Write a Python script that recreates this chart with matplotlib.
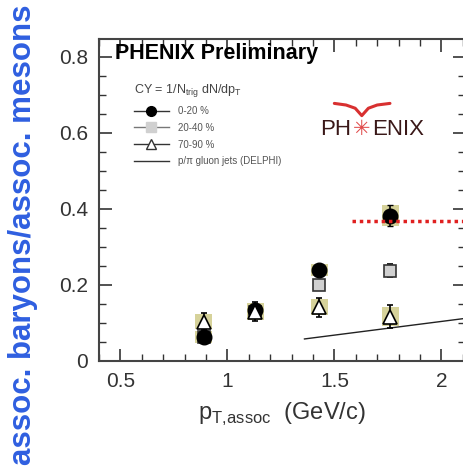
import matplotlib
matplotlib.use("Agg")
import matplotlib.pyplot as plt
from matplotlib.lines import Line2D
from matplotlib.patches import Rectangle
from matplotlib.ticker import MultipleLocator

# ---- data ----
x_pts = [0.89, 1.13, 1.43, 1.76]
y_central = [0.063, 0.133, 0.240, 0.382]      # 0-20 %
y_mid = [0.063, 0.130, 0.200, 0.238]          # 20-40 %
y_periph = [0.103, 0.130, 0.142, 0.116]       # 70-90 %
err_central = [0.010, 0.015, 0.012, 0.028]
err_mid = [0.008, 0.012, 0.012, 0.018]
err_periph = [0.022, 0.025, 0.025, 0.030]
syst_central = [0.015, 0.020, 0.016, 0.028]
syst_periph = [0.020, 0.022, 0.022, 0.025]
delphi_x = [1.36, 2.11]
delphi_y = [0.058, 0.112]
ref_x = [1.58, 2.11]
ref_y = [0.368, 0.368]
legend_labels = ["0-20 %", "20-40 %", "70-90 %", "p/\u03c0 gluon jets (DELPHI)"]

plt.rcParams['font.family'] = ['Liberation Sans', 'DejaVu Sans']

fig = plt.figure(figsize=(4.63, 4.74), dpi=100)
fig.patch.set_facecolor('white')
ax = fig.add_axes([99/463, (474-361)/474, (465-99)/463, (361-39)/474])
ax.set_xlim(0.4, 2.11)
ax.set_ylim(0, 0.847)

khaki = '#d6d29a'
bw = 0.04
for xs, ys, ss in [(x_pts, y_central, syst_central), (x_pts, y_periph, syst_periph)]:
    for xv, yv, sv in zip(xs, ys, ss):
        ax.add_patch(Rectangle((xv - bw, yv - sv), 2*bw, 2*sv, facecolor=khaki,
                               edgecolor='none', zorder=1))

ax.errorbar(x_pts, y_mid, yerr=err_mid, fmt='s', ms=9, mfc='#d0d0d0', mec='#333333',
            mew=1.2, ecolor='black', elinewidth=1.2, capsize=2, zorder=3)
ax.errorbar(x_pts, y_central, yerr=err_central, fmt='o', ms=10.5, mfc='black', mec='black',
            ecolor='black', elinewidth=1.2, capsize=2, zorder=4)
ax.errorbar(x_pts, y_periph, yerr=err_periph, fmt='^', ms=10, mfc='white', mec='black',
            mew=1.2, ecolor='black', elinewidth=1.2, capsize=2, zorder=5)

ax.plot(delphi_x, delphi_y, color='#222222', lw=1.0, zorder=2)
ax.plot(ref_x, ref_y, color='#e02020', lw=2.5, ls=(0, (1, 1.1)), zorder=6)

# ticks
ax.xaxis.set_major_locator(MultipleLocator(0.5))
ax.xaxis.set_minor_locator(MultipleLocator(0.1))
ax.yaxis.set_major_locator(MultipleLocator(0.2))
ax.yaxis.set_minor_locator(MultipleLocator(0.05))
ax.tick_params(which='both', direction='in', top=True, right=True, colors='#333333')
ax.tick_params(which='major', length=9, width=1.2, labelsize=15, labelcolor='#333333', pad=8)
ax.tick_params(which='minor', length=5, width=1.0)
ax.set_xticks([0.5, 1, 1.5, 2])
ax.set_xticklabels(['0.5', '1', '1.5', '2'])
ax.set_yticks([0, 0.2, 0.4, 0.6, 0.8])
ax.set_yticklabels(['0', '0.2', '0.4', '0.6', '0.8'])
for s in ax.spines.values():
    s.set_color('#444444')
    s.set_linewidth(1.5)

ax.set_xlabel(r'p$_{\mathregular{T,\!assoc}}$  (GeV/c)', fontsize=17, color='#333333', labelpad=7)

fig.text(23/463, 0.505, 'assoc. baryons/assoc. mesons', rotation=90, ha='center', va='center',
         fontsize=22.5, fontweight='bold', color='#2f5fe0')

ax.text(0.045, 0.955, 'PHENIX Preliminary', transform=ax.transAxes, fontsize=15.5,
        fontweight='bold', color='black', va='center', ha='left')

handles = [
    Line2D([], [], color='#333333', lw=1, marker='o', ms=7, mfc='black', mec='black'),
    Line2D([], [], color='#777777', lw=1, marker='s', ms=6.5, mfc='#d0d0d0', mec='#d0d0d0'),
    Line2D([], [], color='#333333', lw=1, marker='^', ms=7, mfc='white', mec='#333333'),
    Line2D([], [], color='#333333', lw=1),
]
leg = ax.legend(handles, legend_labels, loc='upper left', bbox_to_anchor=(0.085, 0.878),
                frameon=False, fontsize=7, handlelength=3.6, labelspacing=0.7,
                handletextpad=0.9, title=r'CY = 1/N$_{\mathregular{trig}}$ dN/dp$_{\mathregular{T}}$',
                title_fontsize=9, alignment='left', borderaxespad=0)
for t in leg.get_texts():
    t.set_color('#555555')
leg.get_title().set_color('#444444')

# PHENIX logo
ax.text((351-99)/366, 0.72, 'PH', transform=ax.transAxes, fontsize=16, color='#3a1818',
        ha='right', va='center')
ax.text((362-99)/366, 0.722, '\u2733', transform=ax.transAxes, fontsize=15, color='#e04a4a',
        ha='center', va='center', family=['DejaVu Sans'])
ax.text((372-99)/366, 0.72, 'ENIX', transform=ax.transAxes, fontsize=16, color='#3a1818',
        ha='left', va='center')
ax.plot([0.643, 0.675, 0.70, 0.718, 0.736, 0.76, 0.795],
        [0.800, 0.795, 0.785, 0.762, 0.785, 0.795, 0.800],
        transform=ax.transAxes, color='#d83030', lw=2.2, solid_capstyle='round')

fig.savefig('out.png', dpi=100, facecolor='white')
